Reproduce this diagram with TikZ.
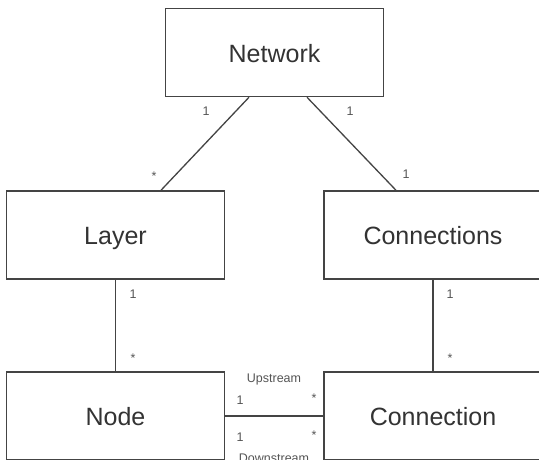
\documentclass[tikz,border=0pt]{standalone}
\usepackage{fontspec}
\setmainfont{Liberation Sans}
\usetikzlibrary{calc}
\definecolor{linegray}{HTML}{444444}
\definecolor{textgray}{HTML}{333333}
\definecolor{labelgray}{HTML}{555555}
\tikzset{
  classbox/.style={draw=linegray, line width=1.5pt, fill=white, minimum width=218pt, minimum height=88pt, inner sep=0pt, text=textgray, text height=22pt, text depth=3pt, font=\fontsize{25}{30}\selectfont},
  assoc/.style={draw=linegray, line width=1.3pt},
  mult/.style={anchor=base, inner sep=0pt, text=labelgray, font=\fontsize{12.5}{15}\selectfont},
  role/.style={inner sep=0pt, text=labelgray, font=\fontsize{12.5}{15}\selectfont}
}
\begin{document}
\begin{tikzpicture}[x=1pt,y=-1pt]
\clip (0,0) rectangle (539,459);
\fill[white] (0,0) rectangle (539,459);
\node[classbox] (net) at (274.5,52.5) {Network};
\node[classbox] (layer) at (115.5,235) {Layer};
\node[classbox] (conns) at (433,235) {Connections};
\node[classbox] (node) at (115.5,416) {Node};
\node[classbox] (conn) at (433,416) {Connection};
% connectors
\draw[assoc] ([xshift=-25.5pt]net.south) -- ([xshift=45.5pt]layer.north);
\draw[assoc] ([xshift=32.5pt]net.south) -- ([xshift=-37pt]conns.north);
\draw[assoc] (layer.south) -- (node.north);
\draw[assoc] (conns.south) -- (conn.north);
\draw[assoc] (node.east) -- (conn.west);
% multiplicities
\node[mult] (m1) at (206,115.5) {1};
\node[mult] (m2) at (154,180) {*};
\node[mult] (m3) at (350,115.5) {1};
\node[mult] (m4) at (406,178.5) {1};
\node[mult] (m5) at (133,298.5) {1};
\node[mult] (m6) at (133,362) {*};
\node[mult] (m7) at (450,298.5) {1};
\node[mult] (m8) at (450,362) {*};
\node[mult] (m9) at (240,404) {1};
\node[mult] (m10) at (314,402) {*};
\node[mult] (m11) at (240,441.5) {1};
\node[mult] (m12) at (314,439.5) {*};
\node[role] (up) at (274,379) {Upstream};
\node[role] (down) at (274,458) {Downstream};
\end{tikzpicture}
\end{document}
